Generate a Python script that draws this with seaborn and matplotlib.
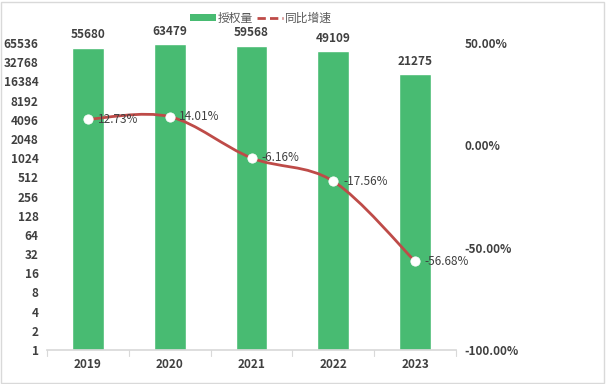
import numpy as np
import pandas as pd
import seaborn as sns
import matplotlib.pyplot as plt
from matplotlib.path import Path
from matplotlib.patches import PathPatch, Patch, Rectangle
from matplotlib.lines import Line2D
from matplotlib.ticker import FixedLocator, FuncFormatter

years = ["2019", "2020", "2021", "2022", "2023"]
grants = [55680, 63479, 59568, 49109, 21275]
growth = [12.73, 14.01, -6.16, -17.56, -56.68]  # percent

left_ticks = [2 ** i for i in range(17)]
right_ticks = [-1.0, -0.5, 0.0, 0.5]

green = "#48BB72"
red = "#BE4B48"
text_col = "#404040"

sns.set_theme(style="white")
plt.rcParams["font.family"] = ["Noto Sans CJK SC", "DejaVu Sans"]

fig = plt.figure(figsize=(6.06, 3.84), dpi=100)
ax = fig.add_axes([47 / 606, 1 - 350 / 384, 409 / 606, 307 / 384])

df = pd.DataFrame({"year": years, "grants": grants, "growth": np.array(growth) / 100})

# bars on a log2 scale
ax.set_yscale("log", base=2)
sns.barplot(data=df, x="year", y="grants", color=green, width=0.39, ax=ax,
            saturation=1, legend=False)
ax.set_ylim(1, 65536)
ax.set_xlim(-0.5, 4.5)
ax.yaxis.set_major_locator(FixedLocator(left_ticks))
ax.yaxis.set_minor_locator(FixedLocator([]))
ax.yaxis.set_major_formatter(FuncFormatter(lambda v, p: f"{int(round(v))}"))
ax.set_xlabel("")
ax.set_ylabel("")
for s in ["left", "right", "top"]:
    ax.spines[s].set_visible(False)
ax.spines["bottom"].set_color("#D9D9D9")
ax.tick_params(axis="y", length=0, labelsize=8.5, labelcolor=text_col, pad=6)
ax.tick_params(axis="x", length=0, labelsize=8.5, labelcolor=text_col, pad=6)
for lab in ax.get_yticklabels() + ax.get_xticklabels():
    lab.set_fontweight("bold")
# category boundary ticks
for b in np.arange(-0.5, 5.0, 1.0):
    ax.plot([b, b], [0, -0.018], transform=ax.get_xaxis_transform(),
            color="#D9D9D9", lw=0.8, clip_on=False)

for i, v in enumerate(grants):
    ax.annotate(f"{v}", (i, v), xytext=(0, 4.5), textcoords="offset points",
                ha="center", va="bottom", fontsize=8.5, fontweight="bold",
                color=text_col)

# growth line on the right axis, smoothed like the original
ax2 = ax.twinx()
ax2.set_ylim(-1, 0.5)
ax2.yaxis.set_major_locator(FixedLocator(right_ticks))
ax2.yaxis.set_major_formatter(FuncFormatter(lambda v, p: f"{v * 100:.2f}%"))
ax2.tick_params(axis="y", length=0, labelsize=8.5, labelcolor=text_col, pad=6)
for lab in ax2.get_yticklabels():
    lab.set_fontweight("bold")
for s in ax2.spines.values():
    s.set_visible(False)

pts = np.column_stack([np.arange(len(years)), df["growth"].values])
ext = np.vstack([pts[0], pts, pts[-1]])
verts = [tuple(pts[0])]
codes = [Path.MOVETO]
for k in range(len(pts) - 1):
    p0, p1, p2, p3 = ext[k], ext[k + 1], ext[k + 2], ext[k + 3]
    c1 = p1 + (p2 - p0) / 6
    c2 = p2 - (p3 - p1) / 6
    verts += [tuple(c1), tuple(c2), tuple(p2)]
    codes += [Path.CURVE4] * 3
ax2.add_patch(PathPatch(Path(verts, codes), facecolor="none", edgecolor=red,
                        lw=2.0, capstyle="round", zorder=3))
sns.scatterplot(data=df, x=np.arange(len(years)), y="growth", ax=ax2,
                color="white", edgecolor="white", s=45, zorder=4, legend=False)
ax2.set_ylabel("")
for i, g in enumerate(growth):
    ax2.annotate(f"{g:.2f}%", (i, g / 100), xytext=(7, 0), textcoords="offset points",
                 ha="left", va="center", fontsize=8.5, color=text_col, zorder=5)

handles = [Patch(facecolor=green, edgecolor="none"),
           Line2D([0], [0], color=red, lw=2.0, ls=(0, (3, 1.5)))]
fig.legend(handles, ["授权量", "同比增速"], loc="center", bbox_to_anchor=(261 / 606, 1 - 18 / 384),
           ncol=2, frameon=False, fontsize=8.5, labelcolor="#595959",
           handlelength=2.2, handleheight=0.6, handletextpad=0.2, columnspacing=0.3,
           borderpad=0.1)

fig.patches.append(Rectangle((0.002, 0.003), 0.995, 0.993, transform=fig.transFigure,
                             fill=False, edgecolor="#D9D9D9", lw=1))

fig.savefig("out.png", dpi=100)
